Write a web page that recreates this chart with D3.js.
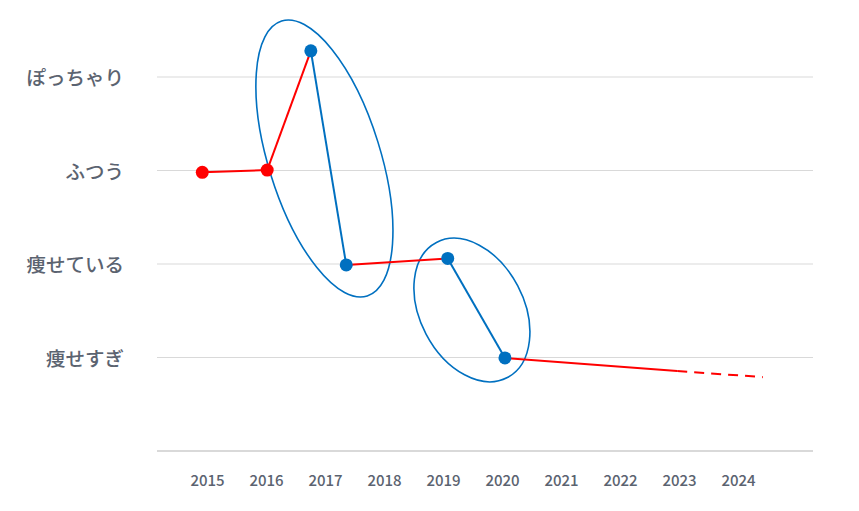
<!DOCTYPE html>
<html><head><meta charset="utf-8">
<script src="https://cdn.jsdelivr.net/npm/d3@7/dist/d3.min.js"></script>
<style>
body{margin:0;background:#fff;}
text{font-family:"Noto Sans CJK JP","Noto Sans",sans-serif;}
</style></head>
<body><svg id="c" width="859" height="511"></svg>
<script>
const categories = ["痩せすぎ","痩せている","ふつう","ぽっちゃり"]; // levels 1..4
const yearTicks = [2015,2016,2017,2018,2019,2020,2021,2022,2023,2024];
// path points: time (year), level
const pointYears  = [2014.92, 2016.02, 2016.76, 2017.36, 2019.08, 2020.05];
const pointLevels = [2.98, 3.005, 4.28, 1.99, 2.06, 0.995];
const pointColors = ["red","red","blue","blue","blue","blue"];
const segColors   = ["red","red","blue","red","blue"];
// trailing trend
const trendYears  = [2020.05, 2022.97, 2024.42];
const trendLevels = [0.995, 0.856, 0.79];
// highlight ellipses: center year/level, semi axes (px), rotation (deg)
const ellipseYears  = [2016.99, 2019.49];
const ellipseLevels = [3.128, 1.508];
const ellipseRx = [56, 51.8];
const ellipseRy = [144, 76.3];
const ellipseRot = [-17.3, -27.7];

const palette = {red:"#ff0000", blue:"#0070c0"};
const svg = d3.select("#c");
const x = d3.scaleLinear().domain([2015,2024]).range([207,738]);
const y = d3.scaleLinear().domain([0,4]).range([451,77]);
const left=157, right=813;

// gridlines
svg.append("g").selectAll("line").data([1,2,3,4]).join("line")
  .attr("x1",left).attr("x2",right)
  .attr("y1",d=>y(d)).attr("y2",d=>y(d))
  .attr("stroke","#d9d9d9").attr("stroke-width",1);
svg.append("line").attr("x1",left).attr("x2",right).attr("y1",y(0)).attr("y2",y(0))
  .attr("stroke","#d9d9d9").attr("stroke-width",2);

// y labels
svg.append("g").selectAll("text").data(categories).join("text")
  .attr("x",124).attr("y",(d,i)=>y(i+1)+1.5).attr("dy","0.35em")
  .attr("text-anchor","end").attr("font-size",19.5).attr("font-weight",500)
  .attr("fill","#5b6370").text(d=>d);

// x labels
const xAxis = d3.axisBottom(x).tickValues(yearTicks).tickFormat(d3.format("d")).tickSize(0).tickPadding(0);
const gx = svg.append("g").attr("transform","translate(0,475)").call(xAxis);
gx.select(".domain").remove();
gx.selectAll("text").attr("font-size",15).attr("font-weight",500).attr("fill","#5b6370")
  .style("font-family","'Noto Sans CJK JP','Noto Sans',sans-serif");

// ellipses
ellipseYears.forEach((yr,i)=>{
  const cx=x(yr), cy=y(ellipseLevels[i]);
  svg.append("ellipse").attr("cx",cx).attr("cy",cy)
    .attr("rx",ellipseRx[i]).attr("ry",ellipseRy[i])
    .attr("transform",`rotate(${ellipseRot[i]},${cx},${cy})`)
    .attr("fill","none").attr("stroke",palette.blue).attr("stroke-width",1.6);
});

// trend line
const line = d3.line().x(d=>x(d[0])).y(d=>y(d[1]));
svg.append("path").datum([[trendYears[0],trendLevels[0]],[trendYears[1],trendLevels[1]]])
  .attr("d",line).attr("stroke",palette.red).attr("stroke-width",2).attr("fill","none");
svg.append("path").datum([[trendYears[1],trendLevels[1]],[trendYears[2],trendLevels[2]]])
  .attr("d",line).attr("stroke",palette.red).attr("stroke-width",2).attr("fill","none")
  .attr("stroke-dasharray","10,7");

// segments
for(let i=0;i<segColors.length;i++){
  svg.append("path").datum([[pointYears[i],pointLevels[i]],[pointYears[i+1],pointLevels[i+1]]])
    .attr("d",line).attr("stroke",palette[segColors[i]]).attr("stroke-width",2).attr("fill","none");
}
// points
svg.append("g").selectAll("circle").data(pointYears).join("circle")
  .attr("cx",d=>x(d)).attr("cy",(d,i)=>y(pointLevels[i])).attr("r",6.5)
  .attr("fill",(d,i)=>palette[pointColors[i]]);
</script></body></html>
